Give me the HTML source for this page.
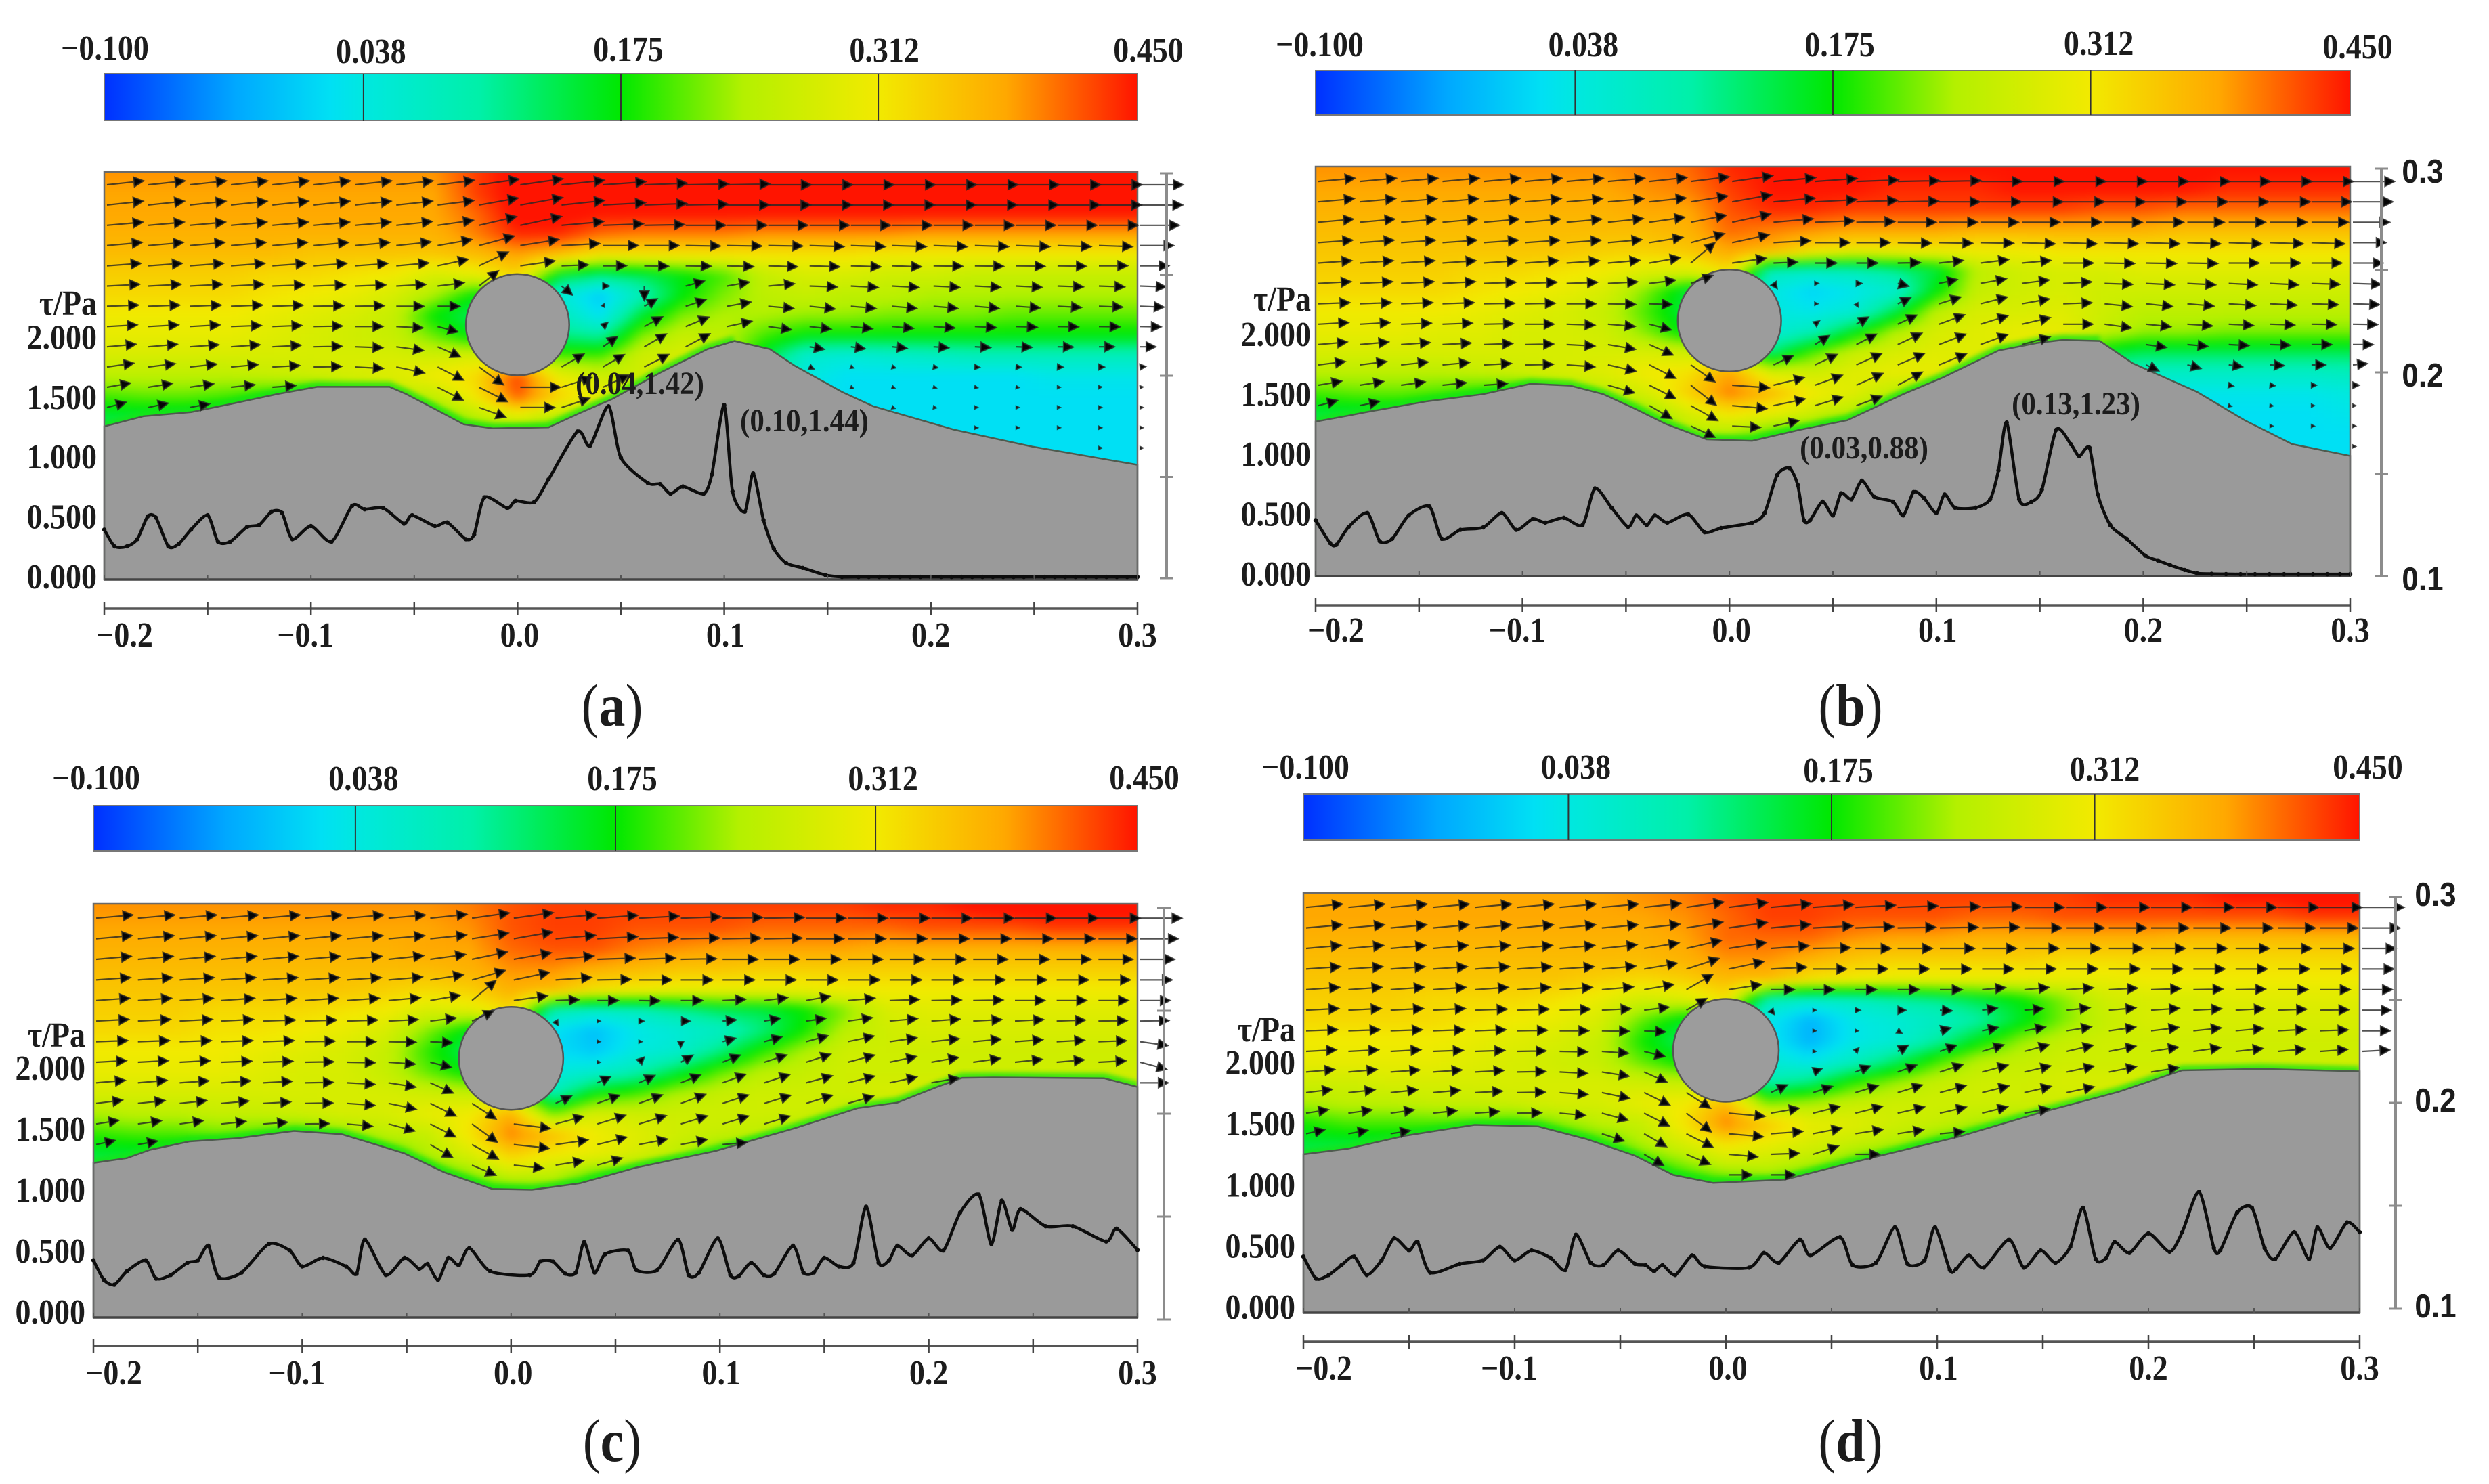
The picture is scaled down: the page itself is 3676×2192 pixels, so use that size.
<!DOCTYPE html>
<html lang="en">
<head>
<meta charset="utf-8">
<title>Velocity field and bed shear stress, panels a to d</title>
<style>
html,body{margin:0;padding:0;background:#fff;}
#figure{position:absolute;left:0;top:0;display:block;}
text{font-family:"Liberation Serif",serif;font-weight:700;fill:#1c1c1c;}
.num{font-size:46px;}
.note{font-size:43px;}
.letter{font-size:78px;font-weight:400;text-anchor:middle;}
.letter tspan{font-weight:700;}
</style>
</head>
<body>
<svg id="figure" xmlns="http://www.w3.org/2000/svg" width="3676" height="2192" viewBox="0 0 3676 2192">
  <defs id="defs">
    <filter id="fieldBlur" filterUnits="userSpaceOnUse" x="0" y="0" width="3676" height="2192" color-interpolation-filters="sRGB"><feGaussianBlur stdDeviation="6"/></filter>
    <filter id="wallBlur" filterUnits="userSpaceOnUse" x="0" y="0" width="3676" height="2192" color-interpolation-filters="sRGB"><feGaussianBlur stdDeviation="3.5"/></filter>
  </defs>
  <rect x="0" y="0" width="3676" height="2192" fill="#fff"/>

  <g id="panel-a"></g>
  <text class="note" x="945" y="582" text-anchor="middle" transform="translate(945 582) scale(1 1.12) translate(-945 -582)">(0.04,1.42)</text>
  <text class="note" x="1188" y="637" text-anchor="middle" transform="translate(1188 637) scale(1 1.12) translate(-1188 -637)">(0.10,1.44)</text>
  <text class="num" x="143" y="465" text-anchor="end" font-size="44" transform="translate(143 465) scale(1 1.12) translate(-143 -465)">τ/Pa</text>
  <text class="letter" x="904" y="1072" transform="translate(904 1072) scale(1 1.14) translate(-904 -1072)">(<tspan>a</tspan>)</text>

  <g id="panel-b"></g>
  <text class="note" x="2753" y="677" text-anchor="middle" transform="translate(2753 677) scale(1 1.12) translate(-2753 -677)">(0.03,0.88)</text>
  <text class="note" x="3066" y="612" text-anchor="middle" transform="translate(3066 612) scale(1 1.12) translate(-3066 -612)">(0.13,1.23)</text>
  <text class="num" x="1936" y="459" text-anchor="end" font-size="44" transform="translate(1936 459) scale(1 1.12) translate(-1936 -459)">τ/Pa</text>
  <text class="letter" x="2733" y="1072" transform="translate(2733 1072) scale(1 1.14) translate(-2733 -1072)">(<tspan>b</tspan>)</text>

  <g id="panel-c"></g>
  <text class="num" x="126" y="1546" text-anchor="end" font-size="44" transform="translate(126 1546) scale(1 1.12) translate(-126 -1546)">τ/Pa</text>
  <text class="letter" x="904" y="2158" transform="translate(904 2158) scale(1 1.14) translate(-904 -2158)">(<tspan>c</tspan>)</text>

  <g id="panel-d"></g>
  <text class="num" x="1913" y="1538" text-anchor="end" font-size="44" transform="translate(1913 1538) scale(1 1.12) translate(-1913 -1538)">τ/Pa</text>
  <text class="letter" x="2733" y="2158" transform="translate(2733 2158) scale(1 1.14) translate(-2733 -2158)">(<tspan>d</tspan>)</text>
</svg>

<script>
/* ---------- shared axis values ---------- */
const colorbarTicks=[-0.1,0.038,0.175,0.312,0.45];
const colorbarLabels=['−0.100','0.038','0.175','0.312','0.450'];
const colormapValues=[-0.1,-0.03,0.02,0.038,0.1,0.175,0.24,0.312,0.38,0.45];
const colormapColors=['#0030ff','#00a8ff','#00e0f4','#00e8e0','#00f0a8','#00e800','#b4f000','#f2ea00','#ffa800','#ff1400'];
const xTicks=[-0.2,-0.15,-0.1,-0.05,0,0.05,0.1,0.15,0.2,0.25,0.3];
const xLabelValues=[-0.2,-0.1,0,0.1,0.2,0.3];
const xLabels=['−0.2','−0.1','0.0','0.1','0.2','0.3'];
const tauTicks=[0,0.5,1,1.5,2];
const tauLabels=['0.000','0.500','1.000','1.500','2.000'];
const heightTicks=[0.3,0.25,0.2,0.15,0.1];
const heightLabelValues=[0.3,0.2,0.1];
const heightLabels=['0.3','0.2','0.1'];
const fieldXs=[-0.2,-0.18,-0.16,-0.14,-0.12,-0.1,-0.08,-0.06,-0.04,-0.02,0,0.02,0.04,0.06,0.08,0.1,0.12,0.14,0.16,0.18,0.2,0.22,0.24,0.26,0.28,0.3];
const fieldHeights=[0.3,0.29,0.28,0.27,0.26,0.25,0.24,0.23,0.22,0.21,0.2,0.19,0.18,0.17,0.16,0.15];
const arrowHeights=[0.295,0.285,0.275,0.265,0.255,0.245,0.235,0.225,0.215,0.205,0.195,0.185,0.175,0.165];

/* ---------- velocity field, hundredths of m/s, rows = fieldHeights, cols = fieldXs ---------- */
const fieldA=[
[39,39,39,39,39,39,39,39,39,43,46,46,46,46,46,46,46,46,46,46,46,46,46,46,46,46],
[38,38,38,38,38,38,38,38,38,43,46,46,46,46,46,46,46,46,46,46,46,46,46,46,46,46],
[38,38,38,38,38,38,38,38,38,41,46,46,45,45,45,45,45,45,45,45,45,45,45,45,45,45],
[37,37,37,37,37,37,37,37,37,40,44,44,41,40,40,40,39,39,39,39,38,38,38,38,38,38],
[36,36,36,36,36,35,35,35,35,36,38,36,32,32,32,32,32,32,32,31,31,31,31,31,31,31],
[34,34,34,34,33,33,32,31,28,30,34,16,12,14,17,20,26,28,28,27,27,26,26,26,26,26],
[33,33,33,33,32,31,30,28,24,17,20,5,0,8,17,22,25,26,25,25,24,24,24,24,24,24],
[31,31,31,31,30,29,28,26,17,13,14,8,2,15,22,24,24,23,23,22,22,22,21,21,21,21],
[30,30,30,30,29,28,27,26,21,16,17,12,10,22,26,25,20,17,17,17,17,17,17,17,17,17],
[28,28,28,28,28,28,28,28,27,28,25,20,20,27,28,25,15,6,5,6,7,8,8,8,8,8],
[25,25,25,25,26,27,28,29,31,33,43,30,27,27,27,25,10,4,2,2,2,2,2,3,3,3],
[20,21,21,20,18,16,20,24,26,32,42,34,30,25,20,15,10,3,2,2,2,2,2,2,2,2],
[15,15,15,14,14,14,16,18,20,25,29,25,22,20,15,10,5,3,2,2,2,2,2,2,2,2],
[12,12,12,12,12,12,14,16,18,20,20,18,15,10,8,5,3,2,2,2,2,2,2,2,2,2],
[10,10,10,10,10,10,12,14,16,18,18,16,12,8,6,4,2,2,2,2,2,2,2,2,2,2],
[10,10,10,10,10,10,12,14,16,18,18,16,12,8,6,4,2,2,2,2,2,2,2,2,2,2]];
const fieldB=[
[39,39,39,39,39,39,39,39,40,41,44,45,45,45,45,45,45,45,46,46,46,46,45,45,45,45],
[38,38,38,38,38,38,38,38,39,40,43,45,45,45,44,44,44,45,45,45,45,45,44,44,44,44],
[37,37,37,37,37,37,37,37,38,38,42,44,44,43,43,43,43,43,43,42,42,41,41,41,41,41],
[36,36,36,36,36,36,36,36,36,37,41,40,39,38,38,38,37,37,37,37,37,36,36,36,36,36],
[35,35,35,35,35,35,35,34,34,35,38,37,33,31,31,31,31,31,32,32,32,32,32,32,32,32],
[34,34,34,34,33,33,32,31,29,29,33,8,7,8,11,15,25,27,28,28,29,29,29,29,29,29],
[33,33,33,33,32,31,30,28,22,15,15,4,1,3,6,17,26,27,28,27,27,27,27,27,27,27],
[31,31,31,31,30,29,28,26,20,14,14,4,3,5,14,25,28,28,29,27,25,25,25,25,25,25],
[30,30,30,29,29,28,28,27,22,16,16,5,8,16,24,28,29,30,30,26,23,23,22,22,22,22],
[28,28,28,28,28,28,28,28,28,27,24,12,20,26,28,29,29,28,26,16,14,14,14,14,14,14],
[25,25,25,25,26,27,28,29,31,32,38,28,27,29,30,30,28,26,24,8,7,7,7,7,7,8],
[20,21,21,20,18,17,21,25,28,34,40,36,31,29,25,20,15,10,5,4,3,3,3,3,3,4],
[15,15,15,14,14,14,15,18,22,28,32,30,27,24,18,12,8,5,3,3,3,2,2,2,2,3],
[12,12,12,12,12,12,14,14,18,24,24,20,18,12,8,5,3,2,2,2,2,2,2,2,2,2],
[10,10,10,10,10,10,12,12,14,18,18,16,12,8,6,4,2,2,2,2,2,2,2,2,2,2],
[10,10,10,10,10,10,12,12,14,18,18,16,12,8,6,4,2,2,2,2,2,2,2,2,2,2]];
const fieldC=[
[39,39,39,39,39,39,39,39,39,40,42,43,43,43,43,43,43,43,43,44,44,45,46,46,46,46],
[38,38,38,38,38,38,38,38,38,39,42,43,43,42,42,42,41,41,41,41,42,42,42,43,43,43],
[37,37,37,37,37,37,37,37,38,38,41,42,42,40,39,38,38,38,38,37,37,37,37,37,37,37],
[36,36,36,36,36,36,36,36,36,37,39,39,37,36,35,35,34,34,34,34,34,34,34,34,34,34],
[35,35,35,35,35,35,35,34,33,34,37,36,32,31,30,30,30,30,31,31,31,31,31,31,31,31],
[34,34,34,33,33,33,32,31,28,29,33,8,6,7,10,13,14,17,22,28,29,29,29,29,29,29],
[33,33,33,32,32,31,30,28,22,16,16,2,-1,3,5,7,12,18,25,27,28,28,28,28,28,28],
[31,31,31,31,30,29,28,26,19,13,13,2,0,4,6,12,19,24,27,27,27,27,27,27,27,27],
[30,30,30,30,29,28,28,26,21,17,17,4,6,9,15,21,25,26,27,27,27,27,27,27,27,27],
[28,28,28,28,28,28,28,28,27,26,24,8,17,20,24,26,27,27,27,28,28,28,28,28,28,28],
[24,25,25,26,26,27,28,28,30,31,37,22,28,27,27,27,27,27,25,22,22,28,28,28,28,28],
[19,20,20,21,20,19,22,25,26,32,40,36,31,29,27,26,25,22,20,20,20,20,20,20,20,20],
[15,15,15,15,14,14,16,19,24,28,34,31,30,28,25,20,18,18,18,18,18,18,18,18,18,18],
[12,12,12,12,12,12,14,16,18,22,26,25,20,18,14,12,12,12,12,12,12,12,12,12,12,12],
[10,10,10,10,10,10,10,12,14,16,18,20,16,14,10,10,10,10,10,10,10,10,10,10,10,10],
[10,10,10,10,10,10,10,12,14,16,18,20,16,14,10,10,10,10,10,10,10,10,10,10,10,10]];
const fieldD=[
[38,38,38,38,38,38,38,38,39,40,42,43,43,43,43,43,43,43,43,44,44,44,45,45,46,46],
[38,38,38,38,38,38,38,38,38,39,41,43,43,42,42,42,41,41,42,42,42,42,42,42,43,43],
[37,37,37,37,37,37,37,37,37,38,41,41,41,39,38,38,37,37,37,37,37,36,36,36,36,36],
[36,36,36,36,36,36,36,36,36,37,39,39,37,35,34,34,34,34,33,33,33,33,33,33,33,33],
[35,35,35,35,35,35,35,34,33,34,36,36,32,31,30,30,30,30,30,30,31,31,31,31,31,31],
[34,34,34,33,33,33,32,30,27,28,32,8,6,7,9,11,14,17,22,27,28,28,29,29,29,29],
[33,33,33,33,32,31,30,28,21,16,15,3,-2,3,5,7,10,16,22,26,28,28,28,28,28,28],
[31,31,31,31,30,29,28,26,18,13,13,3,-2,3,5,10,17,23,26,27,27,27,27,27,27,27],
[30,30,30,30,29,28,27,26,21,17,16,5,3,7,13,20,25,26,27,27,27,27,27,27,27,27],
[27,27,28,28,28,28,28,28,27,26,24,9,12,19,23,26,27,27,28,28,28,28,28,28,28,28],
[24,25,25,26,26,27,28,28,30,31,36,22,24,26,27,27,27,27,27,27,27,27,27,27,27,27],
[18,20,20,20,20,19,22,25,26,32,40,35,30,29,27,26,24,22,22,22,22,22,22,22,22,22],
[15,15,15,15,14,14,16,19,24,28,32,30,28,26,24,20,15,15,15,15,15,15,15,15,15,15],
[12,12,12,12,12,12,14,16,18,22,26,26,24,20,16,12,12,12,12,12,12,12,12,12,12,12],
[10,10,10,10,10,10,10,12,14,16,18,20,16,14,10,10,10,10,10,10,10,10,10,10,10,10],
[10,10,10,10,10,10,10,12,14,16,18,20,16,14,10,10,10,10,10,10,10,10,10,10,10,10]];

/* ---------- flow direction, degrees above horizontal, rows = arrowHeights, cols = fieldXs ---------- */
const anglesA=[
[6,6,6,6,6,6,6,6,7,8,8,6,4,2,1,1,0,0,0,0,0,0,0,0,0,0],
[6,6,6,6,6,6,6,6,7,10,10,6,3,2,1,0,0,0,0,0,0,0,0,0,0,0],
[5,5,5,5,5,5,5,6,8,13,12,5,2,1,0,0,0,0,0,0,0,0,0,0,0,0],
[5,5,5,5,5,5,5,6,10,15,9,3,0,0,-1,-1,-1,-2,-2,-2,-2,-2,-2,-2,-2,0],
[4,4,4,4,4,4,4,5,12,25,8,2,0,-1,-1,-2,-2,-2,-2,-2,-1,-1,-1,-1,0,0],
[3,3,3,3,2,2,2,3,7,38,0,-40,0,-90,15,10,5,-2,-3,-3,-3,-3,-3,-2,-2,-2],
[2,2,2,2,2,1,1,0,0,0,0,0,60,30,18,10,-5,-6,-5,-5,-5,-5,-4,-3,-2,-2],
[3,3,3,2,2,1,0,-3,-15,0,0,0,40,28,22,12,-8,-7,-6,-5,-4,-3,-2,-1,-1,-1],
[5,5,4,4,3,1,-2,-8,-24,0,0,0,35,30,28,18,-12,-10,-8,-6,-4,-3,-2,-1,0,0],
[8,7,6,5,3,1,-3,-12,-27,-36,0,30,30,27,20,0,-30,-25,-20,-15,-10,-5,-3,-2,0,5],
[10,9,8,6,4,1,-5,-15,-27,-27,0,18,25,20,0,0,0,-30,-25,-20,-15,-10,-5,0,5,5],
[15,12,10,8,5,0,-8,-20,-30,-20,0,18,25,0,0,0,0,0,-30,-20,-10,0,0,0,0,0],
[0,0,0,0,0,0,0,0,-30,-25,-5,15,0,0,0,0,0,0,0,0,0,0,0,0,0,0],
[0,0,0,0,0,0,0,0,0,0,0,0,0,0,0,0,0,0,0,0,0,0,0,0,0,0]];
const anglesB=[
[5,5,5,5,5,5,5,5,6,7,8,5,4,2,1,1,0,0,0,0,0,0,0,0,0,0],
[5,5,5,5,5,5,5,5,6,9,10,5,3,2,1,0,0,0,0,0,0,0,0,0,0,0],
[5,5,5,5,5,5,5,6,8,11,12,5,2,1,0,0,0,0,0,0,0,0,0,0,0,0],
[4,4,4,4,4,4,4,5,9,15,12,3,0,0,-1,-1,-1,-2,-2,-2,-2,-2,-2,-2,-2,0],
[4,4,4,4,4,4,4,5,10,40,8,2,0,0,1,6,7,5,0,-1,-1,-1,0,0,0,0],
[3,3,3,3,2,2,2,3,7,20,0,-55,0,0,-15,12,10,7,3,-2,-3,-3,-3,-3,-2,-2],
[2,2,2,2,1,1,0,-1,-2,0,0,0,0,-60,25,17,14,10,2,-6,-6,-5,-4,-3,-2,-2],
[3,3,2,2,1,0,-2,-5,-15,0,0,0,35,30,25,20,17,13,0,-8,-6,-4,-3,-2,-1,-1],
[5,5,4,3,2,1,-3,-10,-24,0,0,0,32,27,25,21,20,15,5,-12,-8,-5,-3,-2,0,0],
[7,7,6,5,3,1,-4,-13,-27,-35,0,25,25,24,23,22,20,12,0,-30,-25,-15,-8,-3,0,5],
[10,9,8,6,4,1,-5,-16,-27,-38,-4,14,20,24,28,25,20,0,0,-30,-30,-20,-10,-5,0,0],
[15,12,10,8,5,0,-8,-18,-30,-29,-5,12,17,20,25,0,0,0,0,0,-30,-25,-15,-5,0,0],
[0,0,0,0,0,0,0,0,-35,-25,-3,12,5,0,0,0,0,0,0,0,0,0,0,0,0,0],
[0,0,0,0,0,0,0,0,0,-27,0,0,0,0,0,0,0,0,0,0,0,0,0,0,0,0]];
const anglesC=[
[5,5,5,5,5,5,5,5,6,8,8,5,4,3,2,1,1,0,0,0,0,0,0,0,0,0],
[5,5,5,5,5,5,5,5,6,9,10,5,3,2,1,1,1,0,0,0,0,0,0,0,0,0],
[5,5,5,5,5,5,5,6,8,12,10,5,2,2,1,0,0,0,0,0,0,0,0,0,0,0],
[4,4,4,4,4,4,4,5,9,16,12,4,1,0,0,0,0,0,0,0,0,0,0,0,0,0],
[4,4,4,4,4,4,4,5,10,40,8,2,0,-1,0,3,7,10,5,2,1,1,0,0,0,0],
[3,3,3,3,2,2,2,3,7,25,0,-60,0,0,0,5,10,8,8,5,4,3,3,2,1,1],
[2,2,2,2,2,1,0,-1,-3,0,0,0,0,0,-90,15,15,15,12,8,6,5,4,3,2,-8],
[3,3,3,2,2,1,-1,-4,-14,0,0,0,0,45,30,22,18,18,15,12,10,8,6,5,3,-15],
[5,5,4,4,3,1,-3,-9,-24,0,0,0,25,25,22,20,18,15,14,12,10,8,6,5,3,0],
[7,6,6,5,3,1,-4,-12,-26,-33,0,25,20,20,20,18,17,17,16,14,12,0,0,0,0,0],
[9,8,8,6,4,1,-5,-15,-27,-36,-7,15,17,17,17,17,17,15,14,10,0,0,0,0,0,0],
[12,10,9,8,5,0,-8,-18,-30,-29,-6,8,14,11,11,5,14,0,0,0,0,0,0,0,0,0],
[0,0,0,0,0,0,0,-18,-30,-23,-6,9,16,3,0,0,0,0,0,0,0,0,0,0,0,0],
[0,0,0,0,0,0,0,0,0,-21,0,0,0,0,0,0,0,0,0,0,0,0,0,0,0,0]];
const anglesD=[
[5,5,5,5,5,5,5,5,6,8,7,5,4,3,2,1,1,0,0,0,0,0,0,0,0,0],
[5,5,5,5,5,5,5,5,6,9,8,5,3,2,1,1,1,0,0,0,0,0,0,0,0,0],
[5,5,5,5,5,5,5,6,9,13,9,4,1,0,0,0,0,0,0,0,0,0,0,0,0,0],
[4,4,4,4,4,4,4,5,10,18,12,3,0,0,0,0,0,0,0,0,0,0,0,0,0,0],
[4,4,4,4,4,4,4,5,10,30,9,0,0,0,0,0,5,5,4,3,2,1,1,0,0,0],
[3,3,3,3,2,2,2,3,7,30,0,-50,0,0,0,-3,8,5,6,5,4,3,3,2,1,0],
[2,2,2,2,2,1,0,-1,-3,0,0,0,0,0,-30,15,12,10,9,8,7,6,5,3,2,0],
[3,3,3,2,2,1,-1,-4,-14,0,0,0,0,45,30,20,17,15,13,11,9,8,6,5,4,3],
[5,5,4,4,3,1,-3,-9,-24,0,0,0,20,22,20,18,15,13,12,11,9,7,0,0,0,0],
[7,6,6,5,3,1,-4,-12,-26,-33,0,25,18,17,17,15,14,13,12,10,0,0,0,0,0,0],
[9,8,8,6,4,1,-5,-15,-27,-37,-5,10,14,14,13,13,14,10,0,0,0,0,0,0,0,0],
[12,10,9,8,5,0,-8,-18,-30,-27,-5,4,11,9,9,5,0,0,0,0,0,0,0,0,0,0],
[0,0,0,0,0,0,0,-18,-30,-23,-5,2,18,0,0,0,0,0,0,0,0,0,0,0,0,0],
[0,0,0,0,0,0,0,0,0,-16,0,0,0,0,0,0,0,0,0,0,0,0,0,0,0,0]];

/* ---------- bed profile ---------- */
const bedXA=[-0.2,-0.181,-0.158,-0.139,-0.116,-0.097,-0.062,-0.054,-0.039,-0.026,-0.012,0.015,0.03,0.046,0.069,0.092,0.105,0.122,0.134,0.157,0.172,0.211,0.249,0.3];
const bedHA=[0.175,0.18,0.182,0.186,0.191,0.1945,0.1945,0.191,0.183,0.176,0.174,0.1745,0.1815,0.1886,0.2015,0.2132,0.2172,0.2132,0.205,0.192,0.185,0.1734,0.165,0.156];
const bedXB=[-0.2,-0.184,-0.176,-0.146,-0.119,-0.096,-0.077,-0.061,-0.046,-0.031,-0.011,0.011,0.034,0.057,0.084,0.103,0.13,0.149,0.161,0.179,0.195,0.226,0.249,0.272,0.3];
const bedHB=[0.1758,0.1788,0.1804,0.1858,0.1893,0.1944,0.1935,0.1893,0.1823,0.1748,0.1671,0.1664,0.1718,0.1765,0.1893,0.1974,0.2107,0.2145,0.2159,0.2154,0.2044,0.1904,0.1765,0.1648,0.159];
const bedXC=[-0.2,-0.184,-0.173,-0.154,-0.131,-0.104,-0.081,-0.066,-0.051,-0.032,-0.009,0.01,0.033,0.06,0.098,0.136,0.166,0.185,0.204,0.216,0.231,0.284,0.3];
const bedHC=[0.1761,0.1784,0.1824,0.1865,0.1881,0.1916,0.19,0.1854,0.1807,0.1715,0.1634,0.163,0.1662,0.1738,0.1819,0.193,0.2027,0.2054,0.213,0.2174,0.2176,0.2172,0.213];
const bedXD=[-0.2,-0.179,-0.152,-0.119,-0.089,-0.066,-0.043,-0.025,-0.006,0.028,0.05,0.073,0.11,0.148,0.186,0.216,0.253,0.3];
const bedHD=[0.175,0.1777,0.184,0.1893,0.1886,0.1824,0.1743,0.165,0.1611,0.1627,0.1685,0.1743,0.1835,0.195,0.2054,0.2158,0.2165,0.2153];

/* ---------- bed shear stress, tau (Pa) ---------- */
const tauXA=[-0.2,-0.195,-0.189,-0.184,-0.179,-0.175,-0.169,-0.164,-0.158,-0.15,-0.145,-0.139,-0.131,-0.125,-0.119,-0.114,-0.109,-0.1,-0.09,-0.08,-0.074,-0.065,-0.055,-0.051,-0.04,-0.034,-0.025,-0.021,-0.016,-0.005,-0.001,0.008,0.015,0.029,0.035,0.044,0.05,0.063,0.069,0.074,0.08,0.09,0.094,0.1,0.104,0.11,0.114,0.119,0.124,0.13,0.138,0.149,0.157,0.165,0.17,0.175,0.18,0.185,0.19,0.195,0.2,0.205,0.21,0.215,0.22,0.225,0.23,0.235,0.24,0.245,0.25,0.255,0.26,0.265,0.27,0.275,0.28,0.285,0.29,0.295,0.3];
const tauA=[0.4,0.26,0.26,0.32,0.51,0.5,0.26,0.28,0.4,0.52,0.3,0.3,0.42,0.44,0.55,0.54,0.32,0.43,0.3,0.6,0.57,0.58,0.45,0.52,0.43,0.46,0.32,0.36,0.67,0.58,0.64,0.63,0.82,1.22,1.1,1.43,1,0.79,0.78,0.7,0.76,0.7,0.86,1.44,0.72,0.55,0.87,0.48,0.24,0.12,0.08,0.02,0.005,0.005,0.005,0.005,0.005,0.005,0.005,0.005,0.005,0.005,0.005,0.005,0.005,0.005,0.005,0.005,0.005,0.005,0.005,0.005,0.005,0.005,0.005,0.005,0.005,0.005,0.005,0.005,0.005];
const tauXB=[-0.2,-0.193,-0.19,-0.184,-0.175,-0.169,-0.163,-0.155,-0.145,-0.139,-0.13,-0.119,-0.11,-0.103,-0.095,-0.089,-0.08,-0.071,-0.065,-0.057,-0.049,-0.045,-0.04,-0.036,-0.03,-0.02,-0.012,-0.004,0.011,0.017,0.023,0.029,0.033,0.036,0.039,0.045,0.05,0.054,0.059,0.064,0.07,0.079,0.084,0.089,0.094,0.1,0.104,0.109,0.119,0.126,0.13,0.134,0.14,0.146,0.151,0.158,0.165,0.169,0.174,0.178,0.184,0.192,0.201,0.207,0.213,0.22,0.226,0.233,0.24,0.247,0.254,0.261,0.268,0.275,0.282,0.289,0.295,0.3];
const tauB=[0.455,0.265,0.25,0.4,0.515,0.28,0.3,0.495,0.57,0.3,0.375,0.395,0.515,0.375,0.465,0.435,0.475,0.415,0.72,0.56,0.4,0.495,0.415,0.495,0.435,0.505,0.355,0.39,0.435,0.515,0.83,0.89,0.75,0.455,0.455,0.61,0.495,0.68,0.63,0.785,0.65,0.61,0.495,0.69,0.64,0.515,0.67,0.56,0.56,0.63,0.87,1.27,0.63,0.61,0.71,1.21,1.09,0.99,1.06,0.67,0.415,0.3,0.16,0.12,0.08,0.04,0.012,0.008,0.006,0.005,0.005,0.005,0.005,0.005,0.005,0.005,0.005,0.005];
const tauXC=[-0.2,-0.195,-0.19,-0.184,-0.175,-0.17,-0.163,-0.155,-0.15,-0.145,-0.14,-0.129,-0.116,-0.106,-0.1,-0.09,-0.079,-0.074,-0.07,-0.06,-0.051,-0.044,-0.04,-0.035,-0.03,-0.025,-0.02,-0.01,0.009,0.014,0.02,0.026,0.031,0.035,0.04,0.045,0.056,0.06,0.07,0.08,0.085,0.09,0.099,0.105,0.109,0.115,0.121,0.126,0.135,0.14,0.145,0.15,0.157,0.164,0.17,0.176,0.181,0.185,0.192,0.2,0.207,0.215,0.224,0.23,0.235,0.24,0.244,0.256,0.269,0.285,0.29,0.3];
const tauC=[0.43,0.27,0.23,0.34,0.43,0.28,0.31,0.41,0.43,0.55,0.29,0.33,0.565,0.51,0.38,0.45,0.38,0.32,0.6,0.31,0.45,0.36,0.4,0.27,0.45,0.39,0.53,0.34,0.31,0.42,0.42,0.32,0.33,0.58,0.33,0.48,0.51,0.35,0.35,0.6,0.31,0.33,0.61,0.31,0.3,0.41,0.31,0.32,0.55,0.33,0.33,0.45,0.38,0.41,0.87,0.41,0.43,0.55,0.47,0.61,0.51,0.82,0.97,0.565,0.92,0.68,0.85,0.71,0.71,0.585,0.69,0.515];
const tauXD=[-0.2,-0.194,-0.188,-0.182,-0.176,-0.17,-0.163,-0.157,-0.15,-0.146,-0.14,-0.126,-0.115,-0.107,-0.1,-0.092,-0.083,-0.076,-0.071,-0.064,-0.058,-0.051,-0.043,-0.038,-0.034,-0.03,-0.024,-0.016,-0.01,0.011,0.018,0.025,0.035,0.04,0.054,0.06,0.071,0.08,0.086,0.094,0.099,0.106,0.109,0.115,0.122,0.134,0.141,0.149,0.156,0.163,0.169,0.175,0.18,0.184,0.191,0.2,0.21,0.216,0.224,0.231,0.234,0.242,0.249,0.255,0.26,0.269,0.276,0.28,0.286,0.294,0.3];
const tauD=[0.42,0.24,0.27,0.35,0.42,0.27,0.39,0.57,0.47,0.54,0.29,0.36,0.39,0.5,0.39,0.47,0.41,0.31,0.6,0.37,0.35,0.47,0.36,0.35,0.3,0.35,0.27,0.43,0.34,0.33,0.45,0.37,0.56,0.43,0.58,0.35,0.37,0.66,0.36,0.39,0.66,0.31,0.32,0.43,0.33,0.56,0.33,0.47,0.37,0.5,0.82,0.4,0.41,0.54,0.45,0.61,0.46,0.62,0.95,0.49,0.47,0.78,0.82,0.49,0.4,0.62,0.4,0.66,0.49,0.7,0.62];

/* ---------- page layout of each panel ---------- */
const panelA={id:'a',left:154,right:1680,top:254,bottom:856,h03:256,h01:854,cbTop:109,cbBottom:178,axisY:899,tau0:853,tauUnit:176.8,tauRight:143,xLabelY:955,rightX:1723,cylinderH:0.2252,wallMax:0.11,arrowDy:2,cbDx:[1,11,11,9,16],cbY:[88,93,90,91,91],showHeights:false,heightLabelX:0,heightLabelDy:0};
const panelB={id:'b',left:1943,right:3471,top:246,bottom:851,h03:249,h01:851,cbTop:104,cbBottom:170,axisY:894,tau0:849,tauUnit:177.1,tauRight:1936,xLabelY:948,rightX:3517,cylinderH:0.2254,wallMax:0.185,arrowDy:4,cbDx:[6,12,10,12,11],cbY:[83,83,83,81,86],showHeights:true,heightLabelX:3578,heightLabelDy:21};
const panelC={id:'c',left:138,right:1680,top:1335,bottom:1946,h03:1341,h01:1949,cbTop:1190,cbBottom:1257,axisY:1988,tau0:1939,tauUnit:180,tauRight:126,xLabelY:2045,rightX:1719,cylinderH:0.2269,wallMax:0.3,arrowDy:0,cbDx:[4,12,10,11,10],cbY:[1166,1167,1167,1167,1166],showHeights:false,heightLabelX:0,heightLabelDy:0};
const panelD={id:'d',left:1925,right:3485,top:1319,bottom:1939,h03:1325,h01:1933,cbTop:1173,cbBottom:1241,axisY:1982,tau0:1932,tauUnit:180.6,tauRight:1913,xLabelY:2038,rightX:3538,cylinderH:0.2255,wallMax:0.3,arrowDy:0,cbDx:[3,11,10,15,12],cbY:[1150,1150,1155,1153,1150],showHeights:true,heightLabelX:3597,heightLabelDy:13};
const xLabelDx=[30,-8,3,2,0,0];

const NS='http://www.w3.org/2000/svg';
function make(parent,tag,attrs){
  const el=document.createElementNS(NS,tag);
  for(const k in attrs){el.setAttribute(k,attrs[k]);}
  parent.appendChild(el);
  return el;
}
function stretch(el,x,y){
  el.setAttribute('transform','translate('+x+' '+y+') scale(1 1.12) translate('+(-x)+' '+(-y)+')');
}
function hexToRgb(h){return [parseInt(h.slice(1,3),16),parseInt(h.slice(3,5),16),parseInt(h.slice(5,7),16)];}
const colormapRgb=colormapColors.map(hexToRgb);
function colorFor(v){
  if(v<=colormapValues[0]){return colormapColors[0];}
  for(let i=1;i<colormapValues.length;i++){
    if(v<=colormapValues[i]){
      const t=(v-colormapValues[i-1])/(colormapValues[i]-colormapValues[i-1]);
      const a=colormapRgb[i-1],b=colormapRgb[i];
      return 'rgb('+Math.round(a[0]+(b[0]-a[0])*t)+','+Math.round(a[1]+(b[1]-a[1])*t)+','+Math.round(a[2]+(b[2]-a[2])*t)+')';
    }
  }
  return colormapColors[colormapColors.length-1];
}
function lerpTable(xs,ys,x){
  if(x<=xs[0]){return ys[0];}
  for(let i=1;i<xs.length;i++){
    if(x<=xs[i]){return ys[i-1]+(ys[i]-ys[i-1])*(x-xs[i-1])/(xs[i]-xs[i-1]);}
  }
  return ys[ys.length-1];
}
function sampleField(field,x,h){
  const cx=Math.max(0,Math.min(fieldXs.length-1.001,(x-fieldXs[0])/(fieldXs[1]-fieldXs[0])));
  const cy=Math.max(0,Math.min(fieldHeights.length-1.001,(fieldHeights[0]-h)/(fieldHeights[0]-fieldHeights[1])));
  const i=Math.floor(cx),j=Math.floor(cy),tx=cx-i,ty=cy-j;
  const top=field[j][i]*(1-tx)+field[j][i+1]*tx;
  const bot=field[j+1][i]*(1-tx)+field[j+1][i+1]*tx;
  return (top*(1-ty)+bot*ty)/100;
}
function smoothPath(pts){
  let d='M'+pts[0][0].toFixed(1)+' '+pts[0][1].toFixed(1);
  for(let i=0;i<pts.length-1;i++){
    const p0=pts[Math.max(0,i-1)],p1=pts[i],p2=pts[i+1],p3=pts[Math.min(pts.length-1,i+2)];
    const c1x=p1[0]+(p2[0]-p0[0])/8,c1y=p1[1]+(p2[1]-p0[1])/8;
    const c2x=p2[0]-(p3[0]-p1[0])/8,c2y=p2[1]-(p3[1]-p1[1])/8;
    d+=' C'+c1x.toFixed(1)+' '+c1y.toFixed(1)+' '+c2x.toFixed(1)+' '+c2y.toFixed(1)+' '+p2[0].toFixed(1)+' '+p2[1].toFixed(1);
  }
  return d;
}

/* colour bar gradient */
const defs=document.getElementById('defs');
const gradient=make(defs,'linearGradient',{id:'colorbarGradient',x1:'0',y1:'0',x2:'1',y2:'0'});
colormapValues.forEach(function(v,i){
  make(gradient,'stop',{offset:((v-colormapValues[0])/(colormapValues[colormapValues.length-1]-colormapValues[0])).toFixed(4),'stop-color':colormapColors[i]});
});

function drawPanel(p,field,angles,bedX,bedH,tauX,tauV){
  const root=document.getElementById('panel-'+p.id);
  const X=function(x){return p.left+(x+0.2)/0.5*(p.right-p.left);};
  const Y=function(h){return p.h01-(h-0.1)/0.2*(p.h01-p.h03);};
  const invX=function(px){return (px-p.left)/(p.right-p.left)*0.5-0.2;};
  const invY=function(py){return 0.1+(p.h01-py)/(p.h01-p.h03)*0.2;};
  const T=function(t){return p.tau0-t*p.tauUnit;};
  const CB=function(v){return p.left+(v+0.1)/0.55*(p.right-p.left);};

  /* colour bar */
  const cbar=make(root,'g',{});
  
  
  const cbRect=make(cbar,'rect',{x:p.left,y:p.cbTop,width:p.right-p.left,height:p.cbBottom-p.cbTop,fill:'url(#colorbarGradient)',stroke:'#777','stroke-width':2});
  
  
  colorbarTicks.forEach(function(v,i){
    if(i>0&&i<colorbarTicks.length-1){
      const tick=make(cbar,'line',{x1:CB(v),x2:CB(v),y1:p.cbTop,y2:p.cbBottom,stroke:'#333','stroke-width':2});
      
      
    }
    const label=make(cbar,'text',{x:CB(v)+p.cbDx[i],y:p.cbY[i],'text-anchor':'middle','class':'num'});
    label.textContent=colorbarLabels[i];
    stretch(label,CB(v)+p.cbDx[i],p.cbY[i]);
    
    
  });

  /* clip */
  const clip=make(defs,'clipPath',{id:'plotClip'+p.id});
  make(clip,'rect',{x:p.left,y:p.top,width:p.right-p.left,height:p.bottom-p.top});

  /* heat field */
  const clipped=make(root,'g',{'clip-path':'url(#plotClip'+p.id+')'});
  
  
  const cells=make(clipped,'g',{filter:'url(#fieldBlur)','shape-rendering':'crispEdges'});
  
  
  const cell=10;
  for(let py=p.top-20;py<p.bottom;py+=cell){
    for(let px=p.left-20;px<p.right+20;px+=cell){
      const x=invX(px+cell/2),h=invY(py+cell/2);
      if(Y(lerpTable(bedX,bedH,x))<py-30){continue;}
      const r=make(cells,'rect',{x:px,y:py,width:cell+0.5,height:cell+0.5,fill:colorFor(sampleField(field,x,h))});
      
      
    }
  }

  /* near-wall low-velocity band */
  const wallPts=[];
  bedX.forEach(function(x,i){if(x<=p.wallMax){wallPts.push(X(x).toFixed(1)+','+Y(bedH[i]).toFixed(1));}});
  const wall=make(clipped,'polyline',{points:wallPts.join(' '),fill:'none',stroke:'#18e414','stroke-width':15,filter:'url(#wallBlur)','stroke-opacity':0.8});
  
  

  /* bed */
  let bedPath='M'+X(bedX[0]).toFixed(1)+' '+p.bottom;
  bedX.forEach(function(x,i){bedPath+=' L'+X(x).toFixed(1)+' '+Y(bedH[i]).toFixed(1);});
  bedPath+=' L'+X(bedX[bedX.length-1]).toFixed(1)+' '+p.bottom+' Z';
  const bed=make(root,'path',{d:bedPath,fill:'#9a9a9a',stroke:'#4e5a4e','stroke-width':2.5});
  
  

  /* cylinder */
  const xScale=(p.right-p.left)/0.5,yScale=(p.h01-p.h03)/0.2;
  const cyl=make(root,'ellipse',{cx:X(0),cy:Y(p.cylinderH),rx:0.025*xScale,ry:0.025*yScale,fill:'#9c9c9c',stroke:'#555','stroke-width':2.5});
  
  

  /* plot frame */
  const frame=make(root,'path',{d:'M'+p.left+' '+p.bottom+' V'+p.top+' H'+p.right+' V'+p.bottom,fill:'none',stroke:'#6a6a6a','stroke-width':2.5});
  
  
  const baseLine=make(root,'line',{x1:p.left,x2:p.right,y1:p.bottom,y2:p.bottom,stroke:'#444','stroke-width':3.5});
  
  

  /* shear stress curve */
  const curve=make(root,'g',{});
  
  
  const pts=tauX.map(function(x,i){return [X(x),T(tauV[i])];});
  const tauLine=make(curve,'path',{d:smoothPath(pts),fill:'none',stroke:'#0d0d0d','stroke-width':4.5,'stroke-linejoin':'round','stroke-linecap':'round'});
  
  
  tauX.forEach(function(x,i){
    const dot=make(curve,'circle',{cx:X(x),cy:T(tauV[i]),r:3.2,fill:'#0d0d0d'});
    
    
  });

  /* arrows */
  const arrows=make(root,'g',{});
  
  
  arrowHeights.forEach(function(h,row){
    fieldXs.forEach(function(x,col){
      if(h<lerpTable(bedX,bedH,x)+0.002){return;}
      const dx=x/0.025,dy=(h-p.cylinderH)/0.025;
      if(dx*dx+dy*dy<1.0){return;}
      const u=Math.abs(sampleField(field,x,h));
      const L=u<0.1?Math.max(0,(u-0.03)*300):8+120*u;
      const a=angles[row][col]*Math.PI/180;
      const cs=Math.cos(a),sn=-Math.sin(a);
      const x0=X(x)+4,y0=Y(h)+p.arrowDy;
      const k=Math.max(0.28,Math.min(1,(L+4)/20));
      const hl=14*k,hw=7*k;
      const reach=Math.max(L,hl);
      const tx=x0+reach*cs,ty=y0+reach*sn;
      const bx=tx-hl*cs,by=ty-hl*sn;
      const d='M'+x0.toFixed(1)+' '+y0.toFixed(1)+' L'+bx.toFixed(1)+' '+by.toFixed(1)+
        ' M'+tx.toFixed(1)+' '+ty.toFixed(1)+' L'+(bx-hw*sn).toFixed(1)+' '+(by+hw*cs).toFixed(1)+' L'+(bx+hw*sn).toFixed(1)+' '+(by-hw*cs).toFixed(1)+' Z';
      const arrow=make(arrows,'path',{d:d,fill:'#050505',stroke:'#262626','stroke-width':2.2,'stroke-opacity':0.8});
      
      
    });
  });

  /* x axis */
  const xAxis=make(root,'g',{});
  
  
  const axisLine=make(xAxis,'line',{x1:p.left,x2:p.right,y1:p.axisY,y2:p.axisY,stroke:'#555','stroke-width':3.5});
  
  
  xTicks.forEach(function(v){
    const t=make(xAxis,'line',{x1:X(v),x2:X(v),y1:p.axisY-10,y2:p.axisY+10,stroke:'#444','stroke-width':2.5});
    
    
    const b=make(xAxis,'line',{x1:X(v),x2:X(v),y1:p.bottom-7,y2:p.bottom,stroke:'#555','stroke-width':2});
    
    
  });
  xLabelValues.forEach(function(v,i){
    const l=make(xAxis,'text',{x:X(v)+xLabelDx[i],y:p.xLabelY,'text-anchor':'middle','class':'num'});
    l.textContent=xLabels[i];
    stretch(l,X(v)+xLabelDx[i],p.xLabelY);
    
    
  });

  /* tau axis labels */
  const tauAxis=make(root,'g',{});
  
  
  tauTicks.forEach(function(v,i){
    const l=make(tauAxis,'text',{x:p.tauRight,y:T(v)+16,'text-anchor':'end','class':'num'});
    l.textContent=tauLabels[i];
    stretch(l,p.tauRight,T(v)+16);
    
    
  });

  /* height axis at right */
  const hAxis=make(root,'g',{});
  
  
  const hLine=make(hAxis,'line',{x1:p.rightX,x2:p.rightX,y1:Y(0.3),y2:Y(0.1),stroke:'#8c8c8c','stroke-width':4});
  
  
  heightTicks.forEach(function(v){
    const t=make(hAxis,'line',{x1:p.rightX-10,x2:p.rightX+10,y1:Y(v),y2:Y(v),stroke:'#8c8c8c','stroke-width':3});
    
    
  });
  if(p.showHeights){
    heightLabelValues.forEach(function(v,i){
      const l=make(hAxis,'text',{x:p.heightLabelX,y:Y(v)+p.heightLabelDy,'text-anchor':'middle','font-size':44,style:'font-family:"Liberation Sans",sans-serif'});
      l.textContent=heightLabels[i];
      stretch(l,p.heightLabelX,Y(v)+p.heightLabelDy);
      
      
    });
  }
}

drawPanel(panelA,fieldA,anglesA,bedXA,bedHA,tauXA,tauA);
drawPanel(panelB,fieldB,anglesB,bedXB,bedHB,tauXB,tauB);
drawPanel(panelC,fieldC,anglesC,bedXC,bedHC,tauXC,tauC);
drawPanel(panelD,fieldD,anglesD,bedXD,bedHD,tauXD,tauD);
</script>
</body>
</html>
